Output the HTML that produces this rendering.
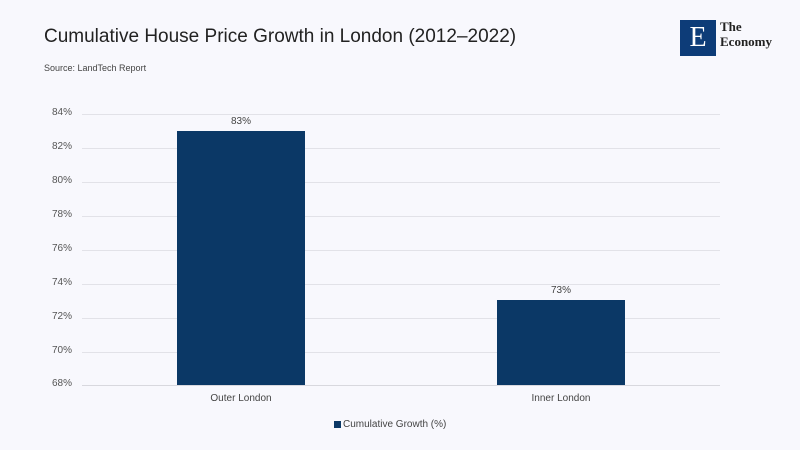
<!DOCTYPE html>
<html><head><style>
body{margin:0;width:800px;height:450px;background:#f8f8fd;font-family:"Liberation Sans",sans-serif;position:relative;overflow:hidden}
.t{position:absolute;left:44px;top:26px;font-size:19px;color:#222}
.s{position:absolute;left:44px;top:63px;font-size:9px;color:#444}
.g{position:absolute;left:82px;width:638px;height:1px;background:#e2e2e8}
.y{position:absolute;left:40px;width:32px;text-align:right;font-size:10px;color:#555}
.bar{position:absolute;background:#0b3866}
.l{position:absolute;font-size:10px;color:#444;text-align:center;width:128px}
</style></head><body>
<div class="t">Cumulative House Price Growth in London (2012–2022)</div>
<div class="s">Source: LandTech Report</div>
<div style="position:absolute;left:680px;top:20px;width:36px;height:36px;background:#0d3c78;color:#fff;font-family:'Liberation Serif',serif;font-size:28px;text-align:center;line-height:36px">E</div>
<div style="position:absolute;left:720px;top:19px;font-family:'Liberation Serif',serif;font-weight:bold;font-size:13px;line-height:15px;color:#222">The<br>Economy</div>
<div class="g" style="top:114px"></div><div class="y" style="top:107px">84%</div>
<div class="g" style="top:148px"></div><div class="y" style="top:141px">82%</div>
<div class="g" style="top:182px"></div><div class="y" style="top:175px">80%</div>
<div class="g" style="top:216px"></div><div class="y" style="top:209px">78%</div>
<div class="g" style="top:250px"></div><div class="y" style="top:243px">76%</div>
<div class="g" style="top:284px"></div><div class="y" style="top:277px">74%</div>
<div class="g" style="top:318px"></div><div class="y" style="top:311px">72%</div>
<div class="g" style="top:352px"></div><div class="y" style="top:345px">70%</div>
<div class="g" style="top:385px;background:#d8d8de"></div><div class="y" style="top:378px">68%</div>
<div class="bar" style="left:177px;top:131px;width:128px;height:254px"></div>
<div class="bar" style="left:497px;top:300px;width:128px;height:85px"></div>
<div class="l" style="left:177px;top:116px">83%</div>
<div class="l" style="left:497px;top:285px">73%</div>
<div class="l" style="left:177px;top:393px">Outer London</div>
<div class="l" style="left:497px;top:393px">Inner London</div>
<div style="position:absolute;left:334px;top:421px;width:7px;height:7px;background:#0b3866"></div>
<div style="position:absolute;left:343px;top:419px;font-size:10px;color:#444">Cumulative Growth (%)</div>
</body></html>
